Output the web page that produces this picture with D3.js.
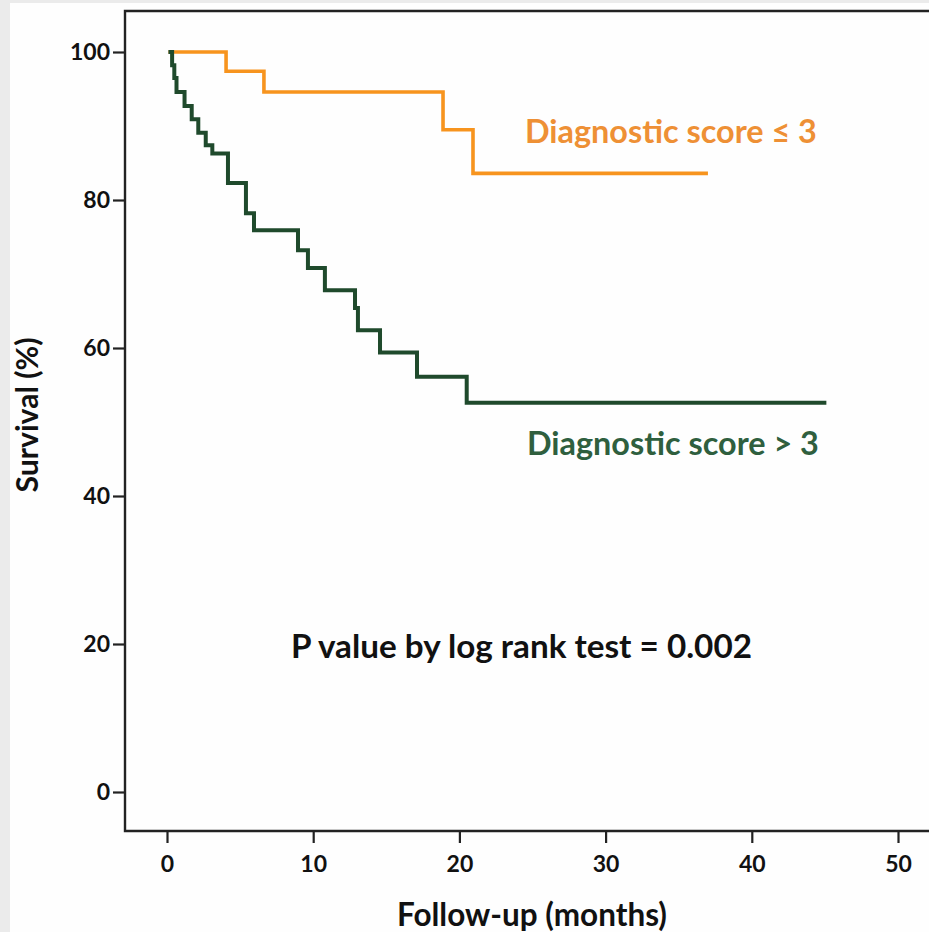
<!DOCTYPE html>
<html>
<head>
<meta charset="utf-8">
<script src="https://cdn.jsdelivr.net/npm/d3@7"></script>
<style>
  html, body { margin: 0; padding: 0; background: #ebebeb; }
  svg { display: block; }
  text { font-family: Lato, "Open Sans", sans-serif; }
</style>
</head>
<body>
<svg id="chart" width="929" height="932"></svg>
<script>
// ---- data ----
const xTicks = [0, 10, 20, 30, 40, 50];
const yTicks = [0, 20, 40, 60, 80, 100];

// Diagnostic score <= 3 (orange)
const lowTimes = [0.1, 4.04, 6.63, 18.88, 20.93, 37.0];
const lowSurv  = [100, 97.4, 94.6, 89.5, 83.6, 83.6];

// Diagnostic score > 3 (green)
const highTimes = [0.1, 0.35, 0.5, 0.65, 1.2, 1.69, 2.14, 2.65, 3.1, 4.17, 5.4, 5.95,
                   8.96, 9.64, 10.8, 12.86, 13.06, 14.57, 17.1, 20.5, 45.1];
const highSurv  = [100, 98.2, 96.5, 94.6, 92.7, 90.9, 89.1, 87.4, 86.3, 82.3, 78.2, 75.9,
                   73.2, 70.8, 67.8, 65.4, 62.4, 59.4, 56.1, 52.6, 52.6];

const labels = {
  low: "Diagnostic score \u2264 3",
  high: "Diagnostic score > 3",
  pval: "P value by log rank test = 0.002",
  xTitle: "Follow-up (months)",
  yTitle: "Survival (%)"
};

// ---- drawing ----
const svg = d3.select("#chart");
const frame = { left: 125, top: 11, bottom: 831, right: 945 };

// white panel over grey page background
svg.append("rect").attr("x", 10).attr("y", 3).attr("width", 929).attr("height", 940).attr("fill", "#fefefe");

const x = d3.scaleLinear().domain([0, 50]).range([167, 898]);
const y = d3.scaleLinear().domain([0, 100]).range([792, 52]);

// frame
svg.append("path")
  .attr("d", `M${frame.right},${frame.top}H${frame.left}V${frame.bottom}H${frame.right}`)
  .attr("fill", "none").attr("stroke", "#222").attr("stroke-width", 2.4);

const yAxis = svg.append("g").attr("transform", `translate(${frame.left},0)`)
  .call(d3.axisLeft(y).tickValues(yTicks).tickSize(12).tickPadding(3).tickFormat(d3.format("d")));
const xAxis = svg.append("g").attr("transform", `translate(0,${frame.bottom})`)
  .call(d3.axisBottom(x).tickValues(xTicks).tickSize(12).tickPadding(13).tickFormat(d3.format("d")));

[yAxis, xAxis].forEach(g => {
  g.select(".domain").remove();
  g.selectAll(".tick line").attr("stroke", "#222").attr("stroke-width", 2.2);
  g.selectAll(".tick text").attr("fill", "#111").attr("font-size", 23).attr("font-weight", "bold")
    .style("font-family", "Lato, 'Open Sans', sans-serif");
});

const line = d3.line().x(d => x(d[0])).y(d => y(d[1])).curve(d3.curveStepAfter);
const lowPts = lowTimes.map((t, i) => [t, lowSurv[i]]);
const highPts = highTimes.map((t, i) => [t, highSurv[i]]);

svg.append("path").datum(lowPts).attr("d", line)
  .attr("fill", "none").attr("stroke", "#f7941e").attr("stroke-width", 3.6);
svg.append("path").datum(highPts).attr("d", line)
  .attr("fill", "none").attr("stroke", "#1f4a2c").attr("stroke-width", 4);

function fitText(sel, targetWidth) {
  const fs = parseFloat(sel.attr("font-size"));
  const w = sel.node().getComputedTextLength();
  sel.attr("font-size", (fs * targetWidth / w).toFixed(2));
}

const tLow = svg.append("text").attr("x", 525).attr("y", 143).attr("font-size", 28)
  .attr("font-weight", "bold").attr("fill", "#ee9035").text(labels.low);
fitText(tLow, 292);
const tHigh = svg.append("text").attr("x", 527).attr("y", 455).attr("font-size", 28)
  .attr("font-weight", "bold").attr("fill", "#2f5f3e").text(labels.high);
fitText(tHigh, 292);
const tP = svg.append("text").attr("x", 291).attr("y", 658).attr("font-size", 28)
  .attr("font-weight", "bold").attr("fill", "#111").text(labels.pval);
fitText(tP, 461);

const tX = svg.append("text").attr("x", 532).attr("y", 926).attr("text-anchor", "middle")
  .attr("font-size", 24).attr("font-weight", "bold").attr("fill", "#111").text(labels.xTitle);
fitText(tX, 270);
const tY = svg.append("text").attr("transform", "translate(38,415) rotate(-90)").attr("text-anchor", "middle")
  .attr("font-size", 22).attr("font-weight", "bold").attr("fill", "#111").text(labels.yTitle);
fitText(tY, 155);
</script>
</body>
</html>
